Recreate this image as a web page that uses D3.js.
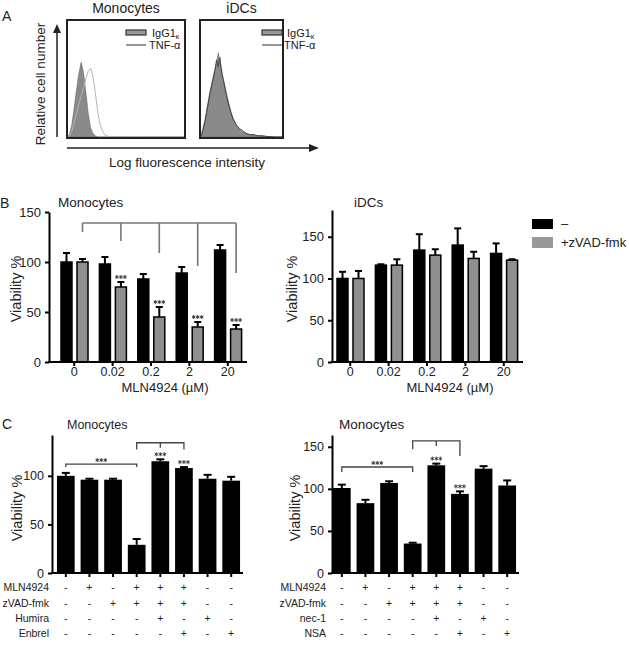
<!DOCTYPE html>
<html>
<head>
<meta charset="utf-8">
<script src="https://cdn.jsdelivr.net/npm/d3@7"></script>
<style>
  body { margin: 0; background: #fff; }
  text { font-family: "Liberation Sans", Arial, sans-serif; fill: #222; }
</style>
</head>
<body>
<div id="chart"></div>
<script>
// ---- DATA ----
// panel A histograms (x = % of log range, y = % of max)
const histBins = [0,2,4,6,8,10,12,14,16,18,20,22,24,26,28,30,32,34,36,38,40,44,48,52,56,60,65,70,75,80,90,100];
const monoIgG  = [0,2,10,24,40,54,64,55,38,20,8,3,1,0,0,0,0,0,0,0,0,0,0,0,0,0,0,0,0,0,0,0];
const monoTNF  = [0,1,5,12,20,28,35,42,50,56,59,52,38,22,11,5,2,1,0,0,0,0,0,0,0,0,0,0,0,0,0,0];
const idcIgG   = [0,3,9,15,23,31,39,45,52,58,63,72,64,58,50,44,37,31,25,20,16,10,6,4,3,2,1.5,1,1,0.5,0,0];
const idcTNF   = [0,2,7,13,21,29,37,44,50,57,66,60,68,55,49,42,35,29,24,19,15,10,7,5,3,2,2,1,1,0.5,0,0];

// panel B
const doses = ["0","0.02","0.2","2","20"];
const monoCtrl = [100,98,83,89,112];
const monoCtrlErr = [9,7,5,6,5];
const monoZvad = [100,75,45,35,33];
const monoZvadErr = [3,5,10,5,4];
const monoStars = [false,true,true,true,true];
const bracketTop = 139;
const bracketEnds = [130,121,109,96,89];
const idcCtrl = [100,116,134,140,130];
const idcCtrlErr = [8,1,19,20,12];
const idcZvad = [100,116,128,124,122];
const idcZvadErr = [9,7,7,8,1];

// panel C
const conds = ["c1","c2","c3","c4","c5","c6","c7","c8"];
const cLeftVals = [100,96,96,29,115,108,97,95];
const cLeftErr  = [3,1,1,6,2,1,4,4];
const cRightVals = [101,83,107,35,128,94,124,104];
const cRightErr  = [4,4,2,1,2,3,3,6];
const rowsLeft  = ["MLN4924","zVAD-fmk","Humira","Enbrel"];
const rowsRight = ["MLN4924","zVAD-fmk","nec-1","NSA"];
const signs = [
  ["-","+","-","+","+","+","-","-"],
  ["-","-","+","+","+","+","-","-"],
  ["-","-","-","-","+","-","+","-"],
  ["-","-","-","-","-","+","-","+"]
];

const svg = d3.select("#chart").append("svg")
  .attr("width", 629).attr("height", 646);
svg.append("rect").attr("width", 629).attr("height", 646).attr("fill", "#fff");

// three small asterisks centred on (cx, cy)
function stars(cx, cy) {
  const sym = d3.symbol(d3.symbolAsterisk, 11);
  [-4, 0, 4].forEach(dx => {
    svg.append("path").attr("d", sym()).attr("transform", `translate(${cx + dx},${cy})`)
      .attr("fill", "none").attr("stroke", "#333").attr("stroke-width", 0.9);
  });
}

// ---- PANEL A ----
svg.append("text").attr("x", 2).attr("y", 21).attr("font-size", 14).text("A");

function histBox(x0, x1, title, igg, tnf, tnfColor) {
  const x = d3.scaleLinear().domain([0, 100]).range([x0, x1]);
  const y = d3.scaleLinear().domain([0, 100]).range([137, 20]);
  const area = d3.area().x((d, i) => x(histBins[i])).y0(y(0)).y1(d => y(d));
  const line = d3.line().x((d, i) => x(histBins[i])).y(d => y(d));
  svg.append("path").datum(igg).attr("d", area).attr("fill", "#8a8a8a").attr("stroke", "#666").attr("stroke-width", 0.6);
  svg.append("path").datum(tnf).attr("d", line).attr("fill", "none").attr("stroke", tnfColor).attr("stroke-width", 1);
  svg.append("rect").attr("x", x0).attr("y", 20).attr("width", x1 - x0).attr("height", 118)
    .attr("fill", "none").attr("stroke", "#222").attr("stroke-width", 2);
  svg.append("text").attr("x", (x0 + x1) / 2).attr("y", 13).attr("text-anchor", "middle")
    .attr("font-size", 14).text(title);
}
histBox(67, 185, "Monocytes", monoIgG, monoTNF, "#b5b5b5");
histBox(200, 283, "iDCs", idcIgG, idcTNF, "#444");

function histLegend(rx, tx) {
  svg.append("rect").attr("x", rx).attr("y", 30).attr("width", 20).attr("height", 5)
    .attr("fill", "#999").attr("stroke", "#333").attr("stroke-width", 1.2);
  const t = svg.append("text").attr("x", tx).attr("y", 37).attr("font-size", 11);
  t.append("tspan").text("IgG1");
  t.append("tspan").attr("font-size", 7).attr("dy", 2).text("κ");
  svg.append("line").attr("x1", rx).attr("x2", rx + 20).attr("y1", 45).attr("y2", 45)
    .attr("stroke", "#333").attr("stroke-width", 1);
  svg.append("text").attr("x", tx - 3).attr("y", 49).attr("font-size", 11).text("TNF-α");
}
histLegend(126, 152);
histLegend(262, 287);

// arrows
svg.append("line").attr("x1", 57).attr("x2", 57).attr("y1", 137).attr("y2", 32).attr("stroke", "#222").attr("stroke-width", 1.5);
svg.append("path").attr("d", "M57,24 L53,33 L61,33 Z").attr("fill", "#222");
svg.append("line").attr("x1", 67).attr("x2", 310).attr("y1", 148).attr("y2", 148).attr("stroke", "#222").attr("stroke-width", 1.5);
svg.append("path").attr("d", "M319,148 L309,144 L309,152 Z").attr("fill", "#222");
svg.append("text").attr("transform", "translate(45,84) rotate(-90)").attr("text-anchor", "middle")
  .attr("font-size", 13.5).text("Relative cell number");
svg.append("text").attr("x", 187).attr("y", 167).attr("text-anchor", "middle")
  .attr("font-size", 13.5).text("Log fluorescence intensity");

// ---- shared bar helpers ----
function errBar(g, cx, yTop, yErr, cap) {
  g.append("line").attr("x1", cx).attr("x2", cx).attr("y1", yTop).attr("y2", yErr)
    .attr("stroke", "#000").attr("stroke-width", 2);
  g.append("line").attr("x1", cx - cap / 2).attr("x2", cx + cap / 2).attr("y1", yErr).attr("y2", yErr)
    .attr("stroke", "#000").attr("stroke-width", 2);
}

function yAxis(axisX, y, ticks, fontSize) {
  const g = svg.append("g").attr("transform", `translate(${axisX},0)`)
    .call(d3.axisLeft(y).tickValues(ticks).tickSize(4).tickSizeOuter(0).tickPadding(4));
  g.selectAll("path,line").attr("stroke", "#000").attr("stroke-width", 2);
  g.selectAll("text").attr("font-size", fontSize).attr("fill", "#222")
    .style("font-family", "'Liberation Sans', Arial, sans-serif");
  return g;
}

// ---- PANEL B ----
svg.append("text").attr("x", 0).attr("y", 208).attr("font-size", 14).text("B");

function doseSeries(cfg) {
  const y = d3.scaleLinear().domain([0, cfg.yMax]).range([362, cfg.yTopPx]);
  const x = d3.scaleBand().domain(doses).range(cfg.band);
  const sub = d3.scaleBand().domain(["ctrl", "zvad"]).range([6, 33]).paddingInner(0.3125);
  const g = svg.append("g");
  doses.forEach((d, i) => {
    [["ctrl", cfg.ctrl, cfg.ctrlErr, "#000"], ["zvad", cfg.zv, cfg.zvErr, "#8f8f8f"]].forEach(s => {
      const bx = x(d) + sub(s[0]);
      g.append("rect").attr("x", bx).attr("y", y(s[1][i])).attr("width", sub.bandwidth())
        .attr("height", y(0) - y(s[1][i])).attr("fill", s[3]).attr("stroke", "#000").attr("stroke-width", 1.5);
      errBar(g, bx + sub.bandwidth() / 2, y(s[1][i]), y(s[1][i] + s[2][i]), 7);
    });
    if (cfg.stars && cfg.stars[i]) {
      stars(x(d) + sub("zvad") + sub.bandwidth() / 2, y(cfg.zv[i] + cfg.zvErr[i]) - 5);
    }
  });
  yAxis(cfg.axisX, y, [0, 50, 100, 150], 13);
  // x axis
  svg.append("line").attr("x1", cfg.axisX - 1).attr("x2", cfg.band[1]).attr("y1", 362).attr("y2", 362)
    .attr("stroke", "#000").attr("stroke-width", 2);
  const xa = svg.append("g").attr("transform", "translate(0,362)")
    .call(d3.axisBottom(x).tickSize(4).tickPadding(1));
  xa.select(".domain").remove();
  xa.selectAll("line").attr("stroke", "#000").attr("stroke-width", 2);
  xa.selectAll("text").attr("font-size", 12.5).attr("fill", "#222")
    .style("font-family", "'Liberation Sans', Arial, sans-serif");
  svg.append("text").attr("x", cfg.xLabelX).attr("y", 392).attr("text-anchor", "middle")
    .attr("font-size", 13).text("MLN4924 (µM)");
  svg.append("text").attr("transform", `translate(${cfg.yLabelX},289) rotate(-90)`)
    .attr("text-anchor", "middle").attr("font-size", 14.5).text("Viability %");
  svg.append("text").attr("x", cfg.titleX).attr("y", 207).attr("font-size", 13.5).text(cfg.title);
  return { x, y, sub };
}

const bL = doseSeries({
  yMax: 150, yTopPx: 212, band: [55, 247], axisX: 49,
  ctrl: monoCtrl, ctrlErr: monoCtrlErr, zv: monoZvad, zvErr: monoZvadErr, stars: monoStars,
  xLabelX: 165, yLabelX: 21, title: "Monocytes", titleX: 58
});
// comparison bracket (over the zVAD bars)
{
  const cxs = doses.map(d => bL.x(d) + bL.sub("zvad") + bL.sub.bandwidth() / 2);
  svg.append("line").attr("x1", cxs[0]).attr("x2", cxs[4]).attr("y1", bL.y(bracketTop)).attr("y2", bL.y(bracketTop))
    .attr("stroke", "#777").attr("stroke-width", 1.6);
  cxs.forEach((cx, i) => {
    svg.append("line").attr("x1", cx).attr("x2", cx).attr("y1", bL.y(bracketTop)).attr("y2", bL.y(bracketEnds[i]))
      .attr("stroke", "#777").attr("stroke-width", 1.6);
  });
}

doseSeries({
  yMax: 182, yTopPx: 210, band: [331, 523], axisX: 332,
  ctrl: idcCtrl, ctrlErr: idcCtrlErr, zv: idcZvad, zvErr: idcZvadErr, stars: null,
  xLabelX: 450, yLabelX: 297, title: "iDCs", titleX: 354
});

// legend
svg.append("rect").attr("x", 532).attr("y", 219).attr("width", 21).attr("height", 10).attr("fill", "#000");
svg.append("rect").attr("x", 532).attr("y", 237).attr("width", 21).attr("height", 11).attr("fill", "#999");
svg.append("text").attr("x", 561).attr("y", 228).attr("font-size", 13).text("–");
svg.append("text").attr("x", 561).attr("y", 247).attr("font-size", 13).text("+zVAD-fmk");

// ---- PANEL C ----
svg.append("text").attr("x", 2).attr("y", 429).attr("font-size", 14).text("C");

function condPanel(cfg) {
  const y = d3.scaleLinear().domain([0, cfg.yMax]).range([573, 435]);
  const x = d3.scaleBand().domain(conds).range(cfg.band).paddingInner(0.25).paddingOuter(0.125);
  const g = svg.append("g");
  conds.forEach((c, i) => {
    g.append("rect").attr("x", x(c)).attr("y", y(cfg.vals[i])).attr("width", x.bandwidth())
      .attr("height", y(0) - y(cfg.vals[i])).attr("fill", "#000");
    errBar(g, x(c) + x.bandwidth() / 2, y(cfg.vals[i]), y(cfg.vals[i] + cfg.err[i]), 8);
  });
  yAxis(cfg.axisX, y, cfg.ticks, 12.5);
  svg.append("line").attr("x1", cfg.axisX - 1).attr("x2", cfg.band[1]).attr("y1", 573).attr("y2", 573)
    .attr("stroke", "#000").attr("stroke-width", 2);
  const xa = svg.append("g").attr("transform", "translate(0,573)")
    .call(d3.axisBottom(x).tickSize(4).tickFormat(""));
  xa.select(".domain").remove();
  xa.selectAll("line").attr("stroke", "#000").attr("stroke-width", 2);

  const cx = c => x(c) + x.bandwidth() / 2;
  const rowY = [591, 607, 622, 637];
  cfg.rows.forEach((r, ri) => {
    svg.append("text").attr("x", cfg.rowLabelX).attr("y", rowY[ri]).attr("text-anchor", "end")
      .attr("font-size", 10.5).text(r);
    conds.forEach((c, ci) => {
      svg.append("text").attr("x", cx(c)).attr("y", rowY[ri]).attr("text-anchor", "middle")
        .attr("font-size", 10.5).text(signs[ri][ci]);
    });
  });

  // brackets
  const b1 = d3.path();
  b1.moveTo(cx("c1"), y(cfg.b1[1])); b1.lineTo(cx("c1"), y(cfg.b1[0]));
  b1.lineTo(cx("c4"), y(cfg.b1[0])); b1.lineTo(cx("c4"), y(cfg.b1[1]));
  svg.append("path").attr("d", b1.toString()).attr("stroke", "#444").attr("stroke-width", 1.3).attr("fill", "none");
  stars((cx("c1") + cx("c4")) / 2, y(cfg.b1[0]) - 4);
  const b2 = d3.path();
  b2.moveTo(cx("c4"), y(cfg.b2[1])); b2.lineTo(cx("c4"), y(cfg.b2[0]));
  b2.lineTo(cx("c6"), y(cfg.b2[0])); b2.lineTo(cx("c6"), y(cfg.b2[2]));
  b2.moveTo(cx("c5"), y(cfg.b2[0])); b2.lineTo(cx("c5"), y(cfg.b2[3]));
  svg.append("path").attr("d", b2.toString()).attr("stroke", "#444").attr("stroke-width", 1.3).attr("fill", "none");
  ["c5", "c6"].forEach(c => {
    const i = conds.indexOf(c);
    stars(cx(c), y(cfg.vals[i] + cfg.err[i]) - 5);
  });

  svg.append("text").attr("transform", `translate(${cfg.yLabelX},508) rotate(-90)`)
    .attr("text-anchor", "middle").attr("font-size", 14.5).text("Viability %");
  svg.append("text").attr("x", cfg.titleX).attr("y", 429).attr("font-size", cfg.titleSize).text("Monocytes");
}

condPanel({
  yMax: 142, band: [54, 243], axisX: 52, ticks: [0, 50, 100],
  vals: cLeftVals, err: cLeftErr, rows: rowsLeft, rowLabelX: 49,
  b1: [112, 109], b2: [134, 127, 127, 129],
  yLabelX: 22, titleX: 67, titleSize: 12.5
});
condPanel({
  yMax: 164, band: [330, 519], axisX: 332, ticks: [0, 50, 100, 150],
  vals: cRightVals, err: cRightErr, rows: rowsRight, rowLabelX: 326,
  b1: [126, 120], b2: [157, 147, 139, 151],
  yLabelX: 300, titleX: 339, titleSize: 13.5
});
</script>
</body>
</html>
